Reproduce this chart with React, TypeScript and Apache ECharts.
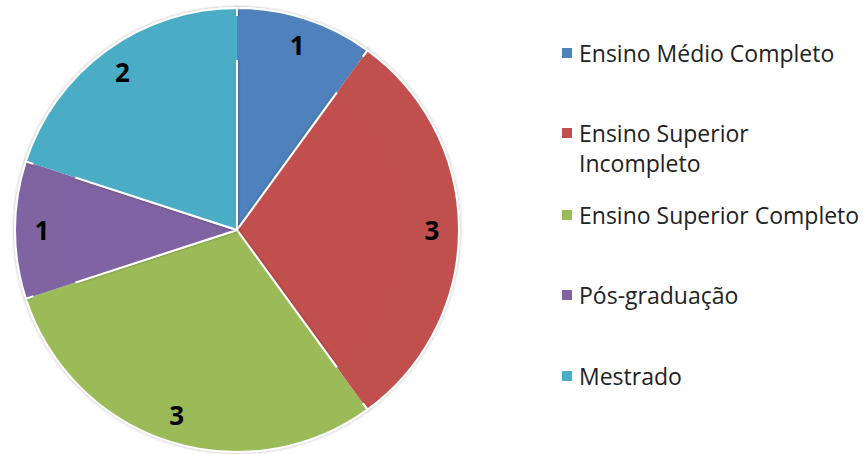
import React, { useEffect, useRef } from "react";
import * as echarts from "echarts";

const categories = [
  "Ensino Médio Completo",
  "Ensino Superior Incompleto",
  "Ensino Superior Completo",
  "Pós-graduação",
  "Mestrado",
];
const values = [1, 3, 3, 1, 2];
const colors = ["#4F81BD", "#C0504D", "#9BBB59", "#8064A2", "#4BACC6"];
const legendCenters = [53, 133, 215, 295, 376];

export default function App() {
  const ref = useRef<HTMLDivElement>(null);
  useEffect(() => {
    if (!ref.current) return;
    const chart = echarts.init(ref.current, undefined, { renderer: "svg" });
    const data = categories.map((name, i) => ({
      name,
      value: values[i],
      itemStyle: { color: colors[i] },
    }));
    const font = "'Open Sans', 'Noto Sans', sans-serif";
    const legends = categories.map((name, i) => {
      const multi = name === "Ensino Superior Incompleto";
      return {
        orient: "vertical",
        left: 560,
        top: legendCenters[i] - (multi ? 45 : 15),
        data: [name],
        icon: "rect",
        itemWidth: 12,
        itemHeight: 12,
        padding: 0,
        selectedMode: false,
        formatter: (n: string) =>
          n === "Ensino Superior Incompleto" ? "\nEnsino Superior\nIncompleto" : n,
        textStyle: {
          fontFamily: font,
          fontSize: 23,
          color: "#222",
          lineHeight: 30,
          padding: [0, 0, 0, 1],
        },
        itemGap: 0,
      };
    });
    chart.setOption({
      animation: false,
      backgroundColor: "#fff",
      legend: legends,
      series: [
        {
          type: "pie",
          center: [237, 230],
          radius: [0, 222],
          startAngle: 90,
          clockwise: true,
          data,
          label: { show: false },
          labelLine: { show: false },
          itemStyle: {
            borderColor: "#fff",
            borderWidth: 2,
            shadowBlur: 3,
            shadowColor: "rgba(0,0,0,0.35)",
          },
          emphasis: { disabled: true },
          silent: true,
        },
        {
          type: "pie",
          center: [237, 230],
          radius: [170, 214],
          startAngle: 90,
          clockwise: true,
          data,
          itemStyle: { color: "rgba(0,0,0,0)", borderWidth: 0 },
          label: {
            show: true,
            position: "inside",
            formatter: "{c}",
            color: "#000",
            fontFamily: font,
            fontWeight: "bold",
            fontSize: 26,
          },
          labelLine: { show: false },
          emphasis: { disabled: true },
          silent: true,
        },
      ],
    });
    return () => chart.dispose();
  }, []);
  return (
    <div
      ref={ref}
      style={{ position: "fixed", left: 0, top: 0, width: 864, height: 454 }}
    />
  );
}
